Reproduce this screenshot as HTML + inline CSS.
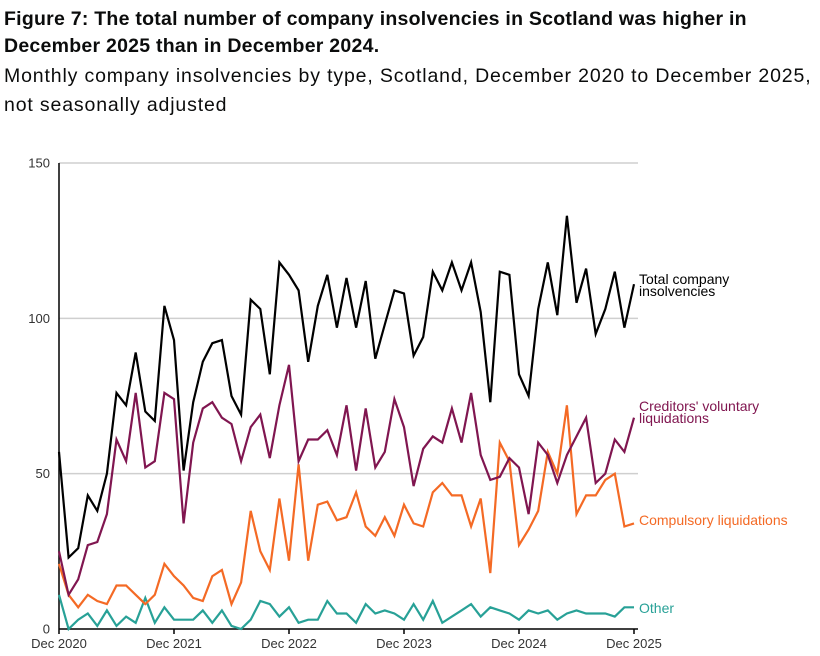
<!DOCTYPE html>
<html><head><meta charset="utf-8"><style>
body{margin:0;background:#fff;width:820px;height:656px;overflow:hidden;font-family:"Liberation Sans",sans-serif;}
.t{position:absolute;left:4px;top:6px;font-size:19.5px;font-weight:bold;line-height:27px;color:#0b0c0c;letter-spacing:0.25px;white-space:nowrap;}
.s{position:absolute;left:4px;top:62px;font-size:19.5px;line-height:29px;color:#0b0c0c;letter-spacing:0.85px;white-space:nowrap;}
svg{position:absolute;left:0;top:0;}
</style></head><body>
<div class="t">Figure 7: The total number of company insolvencies in Scotland was higher in<br>December 2025 than in December 2024.</div>
<div class="s">Monthly company insolvencies by type, Scotland, December 2020 to December 2025,<br>not seasonally adjusted</div>
<svg id="c" width="820" height="656" font-family="Liberation Sans, sans-serif"></svg>
<script>
const T=[57,23,26,43,38,50,76,72,89,70,67,104,93,51,73,86,92,93,75,69,106,103,82,118,114,109,86,104,114,97,113,97,112,87,98,109,108,88,94,115,109,118,109,118,102,73,115,114,82,75,103,118,101,133,105,116,95,103,115,97,111];
const C=[25,11,16,27,28,37,61,54,76,52,54,76,74,34,60,71,73,68,66,54,65,69,55,72,85,54,61,61,64,56,72,51,71,52,57,74,65,46,58,62,60,71,60,76,56,48,49,55,52,37,60,56,47,56,62,68,47,50,61,57,68];
const O=[21,11,7,11,9,8,14,14,11,8,11,21,17,14,10,9,17,19,8,15,38,25,19,42,22,53,22,40,41,35,36,44,33,30,36,30,40,34,33,44,47,43,43,33,42,18,60,54,27,32,38,57,50,72,37,43,43,48,50,33,34];
const G=[11,0,3,5,1,6,1,4,2,10,2,7,3,3,3,6,2,6,1,0,3,9,8,4,7,2,3,3,9,5,5,2,8,5,6,5,3,8,3,9,2,4,6,8,4,7,6,5,3,6,5,6,3,5,6,5,5,5,4,7,7];
const X=i=>59+i*575/60, Y=v=>629-v*3.1067;
let s='';
[50,100,150].forEach(v=>{s+=`<line x1="59" x2="638" y1="${Y(v)}" y2="${Y(v)}" stroke="#cfcfcf" stroke-width="1.5"/>`;});
[0,50,100,150].forEach(v=>{s+=`<text x="50" y="${Y(v)+4.5}" font-size="13" text-anchor="end" fill="#333">${v}</text>`;});
s+=`<line x1="59" x2="59" y1="163" y2="629" stroke="#000" stroke-width="1.5"/>`;
s+=`<line x1="59" x2="638" y1="629" y2="629" stroke="#000" stroke-width="1.5"/>`;
for(let k=0;k<=5;k++){const x=X(k*12);s+=`<line x1="${x}" x2="${x}" y1="629" y2="634" stroke="#000" stroke-width="1.5"/><text x="${x}" y="648" font-size="13" text-anchor="middle" fill="#333">Dec ${2020+k}</text>`;}
function pl(d,c){return `<polyline fill="none" stroke="${c}" stroke-width="2.2" stroke-linejoin="miter" points="${d.map((v,i)=>X(i).toFixed(1)+','+Y(v).toFixed(1)).join(' ')}"/>`;}
s+=pl(G,'#28a197')+pl(O,'#f46a25')+pl(C,'#801650')+pl(T,'#000');
s+=`<text x="639" y="284" font-size="14" fill="#000">Total company</text><text x="639" y="296" font-size="14" fill="#000">insolvencies</text>`;
s+=`<text x="639" y="411" font-size="14" fill="#801650">Creditors' voluntary</text><text x="639" y="423" font-size="14" fill="#801650">liquidations</text>`;
s+=`<text x="639" y="525" font-size="14" fill="#f46a25">Compulsory liquidations</text>`;
s+=`<text x="639" y="613" font-size="14" fill="#28a197">Other</text>`;
document.getElementById('c').innerHTML=s;
</script>
</body></html>
